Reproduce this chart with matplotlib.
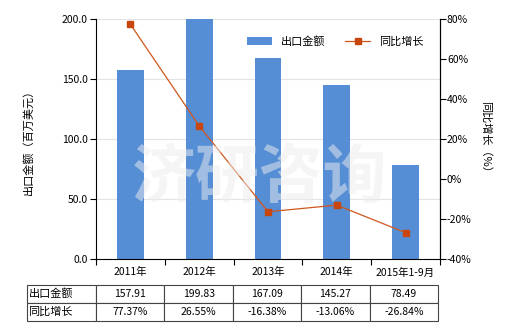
import matplotlib
matplotlib.use("Agg")
import matplotlib.pyplot as plt
import numpy as np

plt.rcParams['font.family'] = ['Noto Sans CJK SC', 'DejaVu Sans']

# ---------------------------------------------------------------- data --
years = ["2011年", "2012年", "2013年", "2014年", "2015年1-9月"]
export_amt = [157.91, 199.83, 167.09, 145.27, 78.49]
yoy_growth = [77.37, 26.55, -16.38, -13.06, -26.84]
amt_labels = ["157.91", "199.83", "167.09", "145.27", "78.49"]
yoy_labels = ["77.37%", "26.55%", "-16.38%", "-13.06%", "-26.84%"]

bar_color = "#558ED5"
line_color = "#D0561C"
marker_color = "#C8460C"

fig = plt.figure(figsize=(5.2, 3.3), dpi=100)
ax = fig.add_axes([96 / 520, 1 - 259 / 330, 344 / 520, 240 / 330])
ax2 = ax.twinx()

x = np.arange(len(years))
ax.bar(x, export_amt, width=0.39, color=bar_color, zorder=2, label="出口金额")
ax2.plot(x, yoy_growth, color=line_color, lw=0.9, marker="s", ms=4,
         mfc=marker_color, mec=marker_color, label="同比增长", zorder=3)

ax.set_xlim(-0.5, len(years) - 0.5)
ax.set_ylim(0, 200)
ax.set_yticks(np.arange(0, 201, 50))
ax.set_yticklabels([f"{v:.1f}" for v in np.arange(0, 201, 50)], fontsize=7.5)
ax2.set_ylim(-40, 80)
ax2.set_yticks(np.arange(-40, 81, 20))
ax2.set_yticklabels([f"{v}%" for v in range(-40, 81, 20)], fontsize=7.5)

ax.set_xticks(x)
ax.set_xticklabels(years, fontsize=7.5)
ax.tick_params(axis="x", length=0, pad=6)
ax.set_xticks(np.arange(-0.5, len(years), 1), minor=True)
ax.tick_params(axis="x", which="minor", length=4, width=0.8)
ax.tick_params(axis="y", length=4, width=0.8, pad=2)
ax2.tick_params(axis="y", length=4, width=0.8, pad=1)

ax.grid(axis="y", color="#E3E3E3", lw=0.8, zorder=0)
ax.set_axisbelow(True)
for a in (ax, ax2):
    a.spines["top"].set_visible(False)
ax2.spines["left"].set_visible(False)
ax2.spines["bottom"].set_visible(False)

ax.set_ylabel("出口金额（百万美元）", fontsize=8, labelpad=20)
ax2.set_ylabel("同比增长（%）", fontsize=8, rotation=-90, labelpad=14)

# watermark
fig.text(0.5, 0.46, "济研咨询", fontsize=46, color="#EDEDED", alpha=0.5,
         ha="center", va="center", zorder=10, fontweight="bold")

h1, l1 = ax.get_legend_handles_labels()
h2, l2 = ax2.get_legend_handles_labels()
ax2.legend(h1 + h2, l1 + l2, loc="upper right", bbox_to_anchor=(0.98, 0.97),
           ncol=2, frameon=False, fontsize=8, handlelength=2.2, columnspacing=1.8)

# data table below the chart
tax = fig.add_axes([27 / 520, 1 - 321 / 330, 411 / 520, 36 / 330])
tax.axis("off")
cells = [["出口金额"] + amt_labels, ["同比增长"] + yoy_labels]
label_w = 69 / 411
col_w = (1 - label_w) / len(years)
tbl = tax.table(cellText=cells, colWidths=[label_w] + [col_w] * len(years),
                bbox=[0, 0, 1, 1], cellLoc="center")
tbl.auto_set_font_size(False)
tbl.set_fontsize(7.5)
for (r, c), cell in tbl.get_celld().items():
    cell.set_edgecolor("#444444")
    cell.set_linewidth(0.8)
    if c == 0:
        cell.set_text_props(ha="left", fontsize=8)
        cell.PAD = 0.02

fig.savefig("out.png", dpi=100)
